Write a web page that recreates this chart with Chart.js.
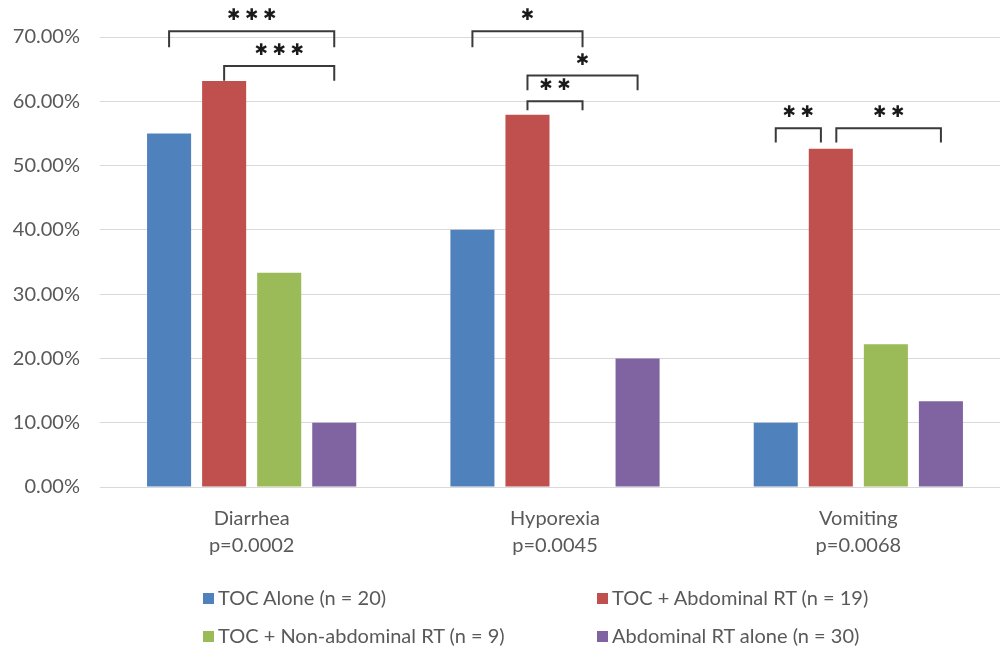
<!DOCTYPE html>
<html>
<head>
<meta charset="utf-8">
<script src="https://cdn.jsdelivr.net/npm/chart.js@4.4.1/dist/chart.umd.min.js"></script>
<style>
  html, body { margin: 0; padding: 0; background: #fff; overflow: hidden; }
  #wrap { position: relative; width: 1000px; height: 648px; overflow: hidden; }
  #box { position: absolute; left: 0; top: 0; width: 1010px; height: 648px; }
  #legend { position: absolute; left: 0; top: 0; width: 1000px; height: 648px; pointer-events: none;
    font-family: Lato, "Liberation Sans", sans-serif; font-size: 20px; color: #595959; }
  .item { position: absolute; white-space: nowrap; line-height: 24px; }
  .swatch { display: inline-block; width: 11px; height: 11px; margin-right: 4px; vertical-align: 1px; }
</style>
</head>
<body>
<div id="wrap">
  <div id="box"><canvas id="chart"></canvas></div>
  <div id="legend"></div>
</div>
<script>
// categories (two-line labels) and series
const categories = [['Diarrhea', 'p=0.0002'], ['Hyporexia', 'p=0.0045'], ['Vomiting', 'p=0.0068']];
const seriesNames = ['TOC Alone (n = 20)', 'TOC + Abdominal RT (n = 19)', 'TOC + Non-abdominal RT (n = 9)', 'Abdominal RT alone (n = 30)'];
const seriesColors = ['#4F81BD', '#C0504D', '#9BBB59', '#8064A2'];

const tocAlone = [55.00, 40.00, 10.00];
const tocAbdominalRT = [63.16, 57.89, 52.63];
const tocNonAbdominalRT = [33.33, 0.00, 22.22];
const abdominalRTAlone = [10.00, 20.00, 13.33];

const yTicks = [0, 10, 20, 30, 40, 50, 60, 70];

// significance brackets: category, from bar, to bar (series index), level %, leg drop %, number of stars
const bracketCat = [0, 0, 1, 1, 1, 2, 2];
const bracketFrom = [0, 1, 0, 1, 1, 0, 1.1];
const bracketTo = [3, 3, 2, 3, 2, 0.82, 3];
const bracketLevel = [70.9, 65.5, 70.9, 64.0, 60.0, 55.8, 55.8];
const bracketDrop = [2.5, 2.3, 2.5, 2.3, 1.4, 2.2, 2.2];
const bracketStars = [3, 3, 1, 1, 2, 2, 2];

const allSeries = [tocAlone, tocAbdominalRT, tocNonAbdominalRT, abdominalRTAlone];
const FONT = 'Lato, "Liberation Sans", sans-serif';

// x position of a (possibly fractional) bar index inside a category
function barX(chart, cat, s) {
  const lo = Math.floor(s), hi = Math.min(3, Math.ceil(s));
  const xlo = chart.getDatasetMeta(lo).data[cat].x;
  const xhi = chart.getDatasetMeta(hi).data[cat].x;
  return xlo + (xhi - xlo) * (s - lo);
}

const bracketPlugin = {
  id: 'brackets',
  afterDatasetsDraw(chart) {
    const ctx = chart.ctx;
    const y = chart.scales.y;
    ctx.save();
    ctx.strokeStyle = '#3a3a3a';
    ctx.lineWidth = 2;
    ctx.fillStyle = '#1a1a1a';
    ctx.font = '16px "DejaVu Sans", sans-serif';
    ctx.textAlign = 'center';
    ctx.textBaseline = 'middle';
    const pitch = 18;
    for (let i = 0; i < bracketCat.length; i++) {
      const x1 = barX(chart, bracketCat[i], bracketFrom[i]);
      const x2 = barX(chart, bracketCat[i], bracketTo[i]);
      const yt = y.getPixelForValue(bracketLevel[i]);
      const yb = y.getPixelForValue(bracketLevel[i] - bracketDrop[i]);
      ctx.beginPath();
      ctx.moveTo(x1, yb);
      ctx.lineTo(x1, yt);
      ctx.lineTo(x2, yt);
      ctx.lineTo(x2, yb);
      ctx.stroke();
      const n = bracketStars[i];
      const xc = (x1 + x2) / 2;
      for (let k = 0; k < n; k++) {
        ctx.fillText('\u2731', xc + (k - (n - 1) / 2) * pitch, yt - 15);
      }
    }
    ctx.restore();
  }
};

new Chart(document.getElementById('chart'), {
  type: 'bar',
  data: {
    labels: categories,
    datasets: allSeries.map((vals, i) => ({
      label: seriesNames[i],
      data: vals,
      backgroundColor: seriesColors[i],
      borderWidth: 0,
      categoryPercentage: 0.726,
      barPercentage: 0.8
    }))
  },
  options: {
    responsive: true,
    maintainAspectRatio: false,
    animation: false,
    layout: { padding: { top: 37, right: 0, bottom: 0, left: 0 } },
    plugins: { legend: { display: false }, tooltip: { enabled: false } },
    scales: {
      x: {
        grid: { display: false, drawTicks: false },
        border: { display: true, color: '#D9D9D9', width: 1 },
        ticks: { color: '#595959', padding: 18, font: { family: FONT, size: 20, lineHeight: 1.35 } },
        afterFit(scale) { scale.height = 161; }
      },
      y: {
        min: 0,
        max: 70,
        afterBuildTicks(scale) { scale.ticks = yTicks.map(v => ({ value: v })); },
        grid: { color: '#D9D9D9', lineWidth: 1, drawTicks: false },
        border: { display: false },
        ticks: {
          color: '#595959',
          padding: 20,
          font: { family: FONT, size: 20 },
          callback: v => v.toFixed(2) + '%'
        },
        afterFit(scale) { scale.width = 100; }
      }
    }
  },
  plugins: [bracketPlugin]
});

// legend (two rows, two columns)
const legendPos = [[203, 585], [597, 585], [203, 623], [597, 623]];
const legend = document.getElementById('legend');
seriesNames.forEach((name, i) => {
  const d = document.createElement('div');
  d.className = 'item';
  d.style.left = legendPos[i][0] + 'px';
  d.style.top = legendPos[i][1] + 'px';
  d.innerHTML = '<span class="swatch" style="background:' + seriesColors[i] + '"></span>' + name;
  legend.appendChild(d);
});
</script>
</body>
</html>
